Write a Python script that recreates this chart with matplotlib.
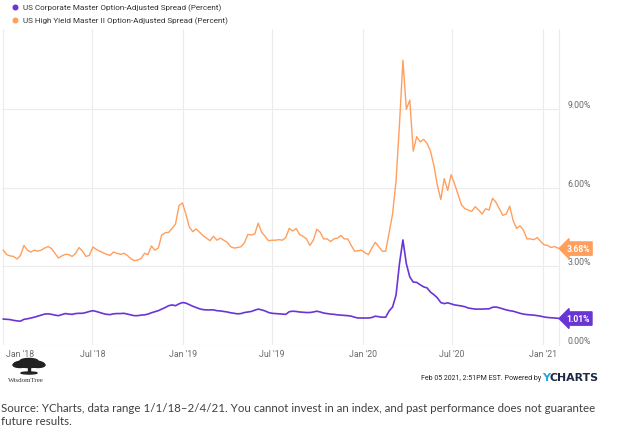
import matplotlib
matplotlib.use("Agg")
import matplotlib.pyplot as plt
import matplotlib.transforms as mtransforms
from matplotlib.patches import Ellipse, Rectangle
import pandas as pd

# ---------------- data ----------------
series_names = ["US Corporate Master Option-Adjusted Spread (Percent)",
                "US High Yield Master II Option-Adjusted Spread (Percent)"]

week_start = "2018-01-01"
week_end = "2021-02-01"
last_date = "2021-02-04"

hy_values = [
    3.62, 3.45, 3.40, 3.38, 3.28, 3.42, 3.80, 3.62, 3.55, 3.62,
    3.58, 3.62, 3.70, 3.76, 3.68, 3.50, 3.32, 3.40, 3.46, 3.45,
    3.38, 3.50, 3.72, 3.58, 3.38, 3.42, 3.74, 3.65, 3.58, 3.52,
    3.46, 3.42, 3.55, 3.50, 3.46, 3.50, 3.42, 3.30, 3.22, 3.24,
    3.30, 3.50, 3.45, 3.78, 3.62, 3.70, 4.20, 4.28, 4.30, 4.45,
    4.62, 5.32, 5.42, 5.00, 4.50, 4.33, 4.43, 4.30, 4.17, 4.08,
    3.98, 4.15, 4.00, 4.08, 4.00, 3.92, 3.75, 3.70, 3.72, 3.75,
    3.90, 4.22, 4.20, 4.24, 4.65, 4.30, 4.15, 3.98, 4.00, 4.00,
    4.02, 4.00, 4.10, 4.45, 4.35, 4.45, 4.22, 4.15, 4.05, 3.80,
    4.00, 4.42, 4.30, 4.05, 4.05, 3.95, 4.05, 4.08, 4.18, 4.05,
    4.05, 3.80, 3.58, 3.60, 3.62, 3.52, 3.45, 3.70, 3.92, 3.75,
    3.58, 3.58, 4.30, 5.00, 6.25, 8.40, 10.87, 9.00, 9.35, 7.40,
    7.95, 7.75, 7.85, 7.70, 7.40, 6.85, 6.10, 5.55, 6.35, 5.90,
    6.50, 6.15, 5.75, 5.35, 5.20, 5.15, 5.10, 5.28, 5.15, 5.00,
    5.20, 5.15, 5.60, 5.45, 5.20, 4.95, 5.00, 5.30, 4.75, 4.45,
    4.55, 4.38, 4.05, 4.05, 4.02, 4.10, 3.95, 3.82, 3.80, 3.72,
    3.76, 3.70, 3.68,
]

ig_values = [
    0.99, 0.98, 0.97, 0.94, 0.92, 0.91, 0.98, 1.00, 1.03, 1.06,
    1.10, 1.14, 1.18, 1.19, 1.17, 1.14, 1.12, 1.16, 1.20, 1.18,
    1.17, 1.20, 1.21, 1.21, 1.24, 1.28, 1.31, 1.28, 1.24, 1.20,
    1.17, 1.16, 1.19, 1.20, 1.20, 1.21, 1.18, 1.15, 1.12, 1.12,
    1.14, 1.15, 1.18, 1.23, 1.27, 1.31, 1.37, 1.43, 1.50, 1.53,
    1.50, 1.57, 1.62, 1.60, 1.54, 1.48, 1.43, 1.38, 1.35, 1.34,
    1.34, 1.34, 1.31, 1.30, 1.28, 1.26, 1.23, 1.21, 1.19, 1.20,
    1.24, 1.26, 1.28, 1.33, 1.37, 1.34, 1.30, 1.24, 1.21, 1.20,
    1.19, 1.18, 1.17, 1.27, 1.29, 1.28, 1.26, 1.25, 1.24, 1.24,
    1.26, 1.29, 1.26, 1.22, 1.20, 1.18, 1.17, 1.15, 1.14, 1.13,
    1.12, 1.10, 1.06, 1.03, 1.03, 1.03, 1.03, 1.05, 1.10, 1.08,
    1.06, 1.06, 1.30, 1.45, 1.90, 3.10, 4.01, 3.10, 2.60, 2.40,
    2.39, 2.30, 2.22, 2.18, 2.02, 1.92, 1.80, 1.62, 1.58, 1.61,
    1.57, 1.53, 1.51, 1.49, 1.46, 1.41, 1.39, 1.37, 1.37, 1.37,
    1.38, 1.38, 1.44, 1.45, 1.42, 1.38, 1.34, 1.31, 1.29, 1.25,
    1.21, 1.18, 1.16, 1.15, 1.14, 1.12, 1.10, 1.07, 1.05, 1.04,
    1.03, 1.02, 1.01,
]

x_tick_dates = ["2018-01-01", "2018-07-01", "2019-01-01", "2019-07-01",
                "2020-01-01", "2020-07-01", "2021-01-01"]
x_tick_labels = ["Jan '18", "Jul '18", "Jan '19", "Jul '19",
                 "Jan '20", "Jul '20", "Jan '21"]
y_ticks = [0, 3, 6, 9]
y_tick_labels = ["0.00%", "3.00%", "6.00%", "9.00%"]

source_text = ("Source: YCharts, data range 1/1/18\u20132/4/21. You cannot invest in an index, "
               "and past performance does not guarantee\nfuture results.")
stamp_text = "Feb 05 2021, 2:51PM EST. Powered by"

# ---------------- styling ----------------
IG_COLOR = "#6a35d5"
HY_COLOR = "#ff9f5e"
GRID = "#ececec"
TICK_COLOR = "#6b6b6b"

W, H = 617, 435
fig = plt.figure(figsize=(W / 100, H / 100), dpi=100)
fig.patch.set_facecolor("white")

def fx(x):
    return x / W

def fy(y):
    return 1 - y / H

dates = list(pd.date_range(week_start, week_end, freq="7D")) + [pd.Timestamp(last_date)]
dates = pd.to_datetime(dates)

ax_left, ax_right, ax_top, ax_bottom = 2.3, 559.4, 30, 346
ax = fig.add_axes([fx(ax_left), fy(ax_bottom), (ax_right - ax_left) / W, (ax_bottom - ax_top) / H])
ax.set_facecolor("white")

ax.plot(dates, hy_values, color=HY_COLOR, lw=1.0, zorder=3)
ax.plot(dates, ig_values, color=IG_COLOR, lw=1.2, zorder=3)

ax.set_xlim(pd.Timestamp("2017-12-30"), pd.Timestamp(last_date))
ax.set_ylim(0, (ax_bottom - ax_top) / 26.2)

for s in ["top", "left", "bottom"]:
    ax.spines[s].set_visible(False)
ax.spines["right"].set_color(GRID)
ax.spines["right"].set_linewidth(0.8)

ax.set_yticks(y_ticks)
ax.set_yticklabels(y_tick_labels)
ax.yaxis.tick_right()
ax.tick_params(axis="y", length=0, pad=6, labelsize=6.3, labelcolor=TICK_COLOR)
for lab in ax.get_yticklabels():
    lab.set_va("bottom")
    lab.set_fontfamily("Roboto")

ax.set_xticks(pd.to_datetime(x_tick_dates))
ax.set_xticklabels(x_tick_labels)
ax.tick_params(axis="x", length=0, pad=3, labelsize=6.3, labelcolor=TICK_COLOR)
for lab in ax.get_xticklabels():
    lab.set_fontfamily("Roboto")
first = ax.get_xticklabels()[0]
first.set_transform(first.get_transform() + mtransforms.ScaledTranslation(17 / 100, 0, fig.dpi_scale_trans))

ax.grid(True, color=GRID, lw=0.8, zorder=0)

# value tags
for vals, col in [(hy_values, HY_COLOR), (ig_values, IG_COLOR)]:
    ax.annotate(f"{vals[-1]:.2f}%", xy=(dates[-1], vals[-1]), xytext=(5, 0),
                textcoords="offset points", va="center", ha="left",
                fontsize=6.2, fontweight="bold", color="white", family="Roboto",
                bbox=dict(boxstyle="larrow,pad=0.25", fc=col, ec=col), annotation_clip=False,
                zorder=5)

# legend
for i, (name, col) in enumerate(zip(series_names, [IG_COLOR, HY_COLOR])):
    y = 8.3 + i * 12.8
    fig.add_artist(plt.Line2D([fx(15)], [fy(y)], marker="o", ms=3.3, color=col,
                              transform=fig.transFigure))
    fig.text(fx(23), fy(y), name, fontsize=5.9, family="Roboto", color="#333333",
             va="center", ha="left")

# WisdomTree logo
lax = fig.add_axes([fx(8), fy(378), fx(42), (378 - 358) / H])
lax.set_xlim(0, 42)
lax.set_ylim(0, 20)
lax.axis("off")
for cx, cy, w, h in [(21, 13, 30, 7), (12, 12, 14, 5), (30, 12, 14, 5), (21, 16, 18, 5)]:
    lax.add_patch(Ellipse((cx, cy), w, h, color="#222222"))
lax.add_patch(Rectangle((20, 4), 2.2, 8, color="#222222"))
lax.add_patch(Ellipse((21, 4), 16, 2, color="#222222"))
fig.text(fx(8), fy(381), "WisdomTree", fontsize=5, family="Liberation Serif",
         color="#333333", va="center", ha="left")

# stamp + YCHARTS
fig.text(fx(541), fy(378.5), stamp_text, fontsize=5.0, family="Roboto", color="#222222",
         va="center", ha="right")
fig.text(fx(542), fy(378.5), "Y", fontsize=8.2, family="DejaVu Sans", fontweight="bold",
         color="#2aa5e0", va="center", ha="left")
fig.text(fx(549.5), fy(378.5), "CHARTS", fontsize=7.9, family="DejaVu Sans", fontweight="bold",
         color="#1b2a41", va="center", ha="left")

# source
fig.text(fx(1), fy(403), source_text, fontsize=8.3, family="Lato", color="#404040",
         va="top", ha="left", linespacing=1.25)

fig.savefig("out.png", dpi=100, facecolor="white")
